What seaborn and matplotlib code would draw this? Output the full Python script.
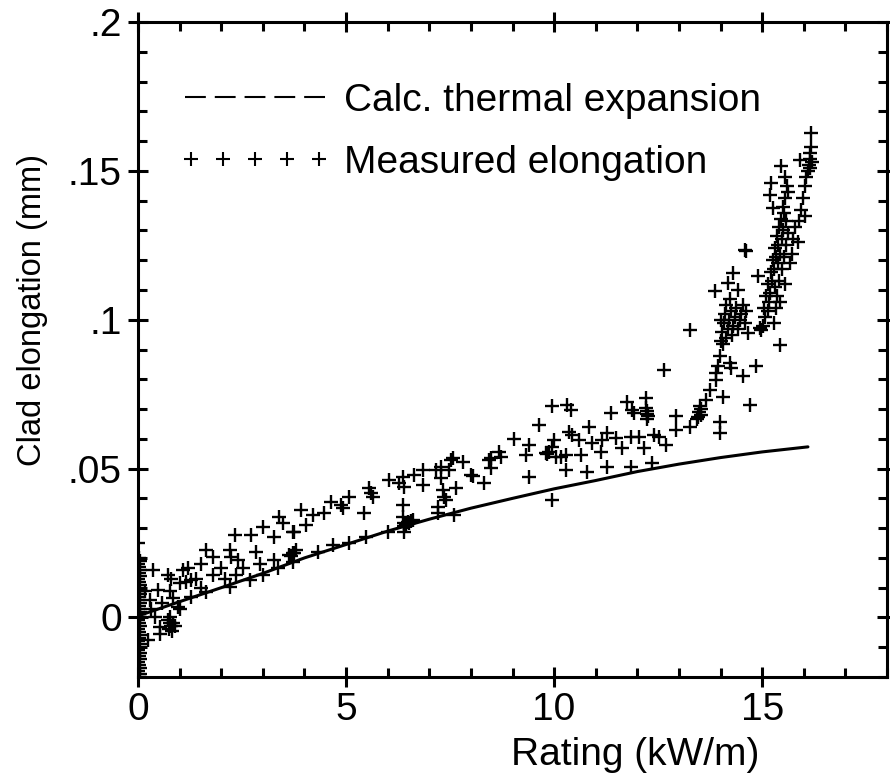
import matplotlib
matplotlib.use("Agg")
import matplotlib.pyplot as plt
import pandas as pd
import seaborn as sns
from matplotlib.lines import Line2D
from matplotlib.legend_handler import HandlerLine2D
from matplotlib.ticker import MultipleLocator, FixedLocator

sns.set_theme(style="ticks")
plt.rcParams['font.family'] = ['Liberation Sans', 'DejaVu Sans']
plt.rcParams['text.color'] = 'black'
plt.rcParams['axes.labelcolor'] = 'black'
plt.rcParams['xtick.color'] = 'black'
plt.rcParams['ytick.color'] = 'black'

# ---- data ----
calc_x = [0, 1, 2, 3, 4, 5, 6, 7, 8, 9, 10, 11, 12, 13, 14, 15, 16.1]
calc_y = [0.0005, 0.0053, 0.0100, 0.0148, 0.0200, 0.0245, 0.0290, 0.0330, 0.0367,
          0.0400, 0.0432, 0.0460, 0.0490, 0.0515, 0.0537, 0.0556, 0.0573]

zero_x = [0.02, 0.04, 0.00, 0.05, 0.03, 0.01, 0.04, 0.02, 0.05, 0.00, 0.03, 0.04, 0.01, 0.02,
          0.05, 0.03, 0.00, 0.04, 0.02, 0.01, 0.05, 0.03, 0.04, 0.00, 0.02, 0.05, 0.01, 0.03,
          0.04, 0.02, 0.00, 0.05, 0.03, 0.01, 0.04, 0.02, 0.05, 0.03, 0.00, 0.04, 0.02, 0.01]
zero_y = [-0.020, -0.019, -0.018, -0.017, -0.016, -0.015, -0.014, -0.013, -0.012, -0.011,
          -0.010, -0.009, -0.008, -0.007, -0.006, -0.005, -0.004, -0.003, -0.002, -0.001,
          0.000, 0.001, 0.002, 0.003, 0.004, 0.005, 0.006, 0.007, 0.008, 0.009, 0.010,
          0.011, 0.012, 0.013, 0.014, 0.015, 0.016, 0.017, 0.018, 0.019, 0.020, 0.025]

low_x = [0.16, 0.24, 0.28, 0.32, 0.37, 0.40, 0.48, 0.52, 0.52, 0.58, 0.72, 0.76, 0.80, 0.84,
         0.96, 1.00, 1.00, 1.08, 1.16, 1.20, 1.28, 1.28, 1.40, 1.52, 1.64, 1.80, 1.52, 1.64,
         1.80, 2.00, 2.08, 2.20, 2.24, 2.32, 2.40, 2.52, 2.36, 2.20, 2.68, 2.72, 2.84, 2.92,
         3.00, 3.00, 3.28, 3.28, 3.40, 3.48, 3.36, 3.64, 3.68, 3.72, 3.76, 3.80, 3.72, 3.76,
         3.72, 3.92, 4.04, 4.20, 4.32, 4.48, 4.64, 4.68, 4.88, 4.92, 5.08, 5.08, 5.44, 5.48,
         5.56, 5.60, 5.64, 6.00, 6.04, 6.28, 6.36, 6.40, 6.36, 6.36, 6.40, 6.44, 6.48, 6.52,
         6.40, 6.56, 6.40, 6.60, 6.64, 6.84, 6.84, 7.16, 7.20, 7.20, 7.28, 7.28, 7.32, 7.36,
         7.40, 7.48, 7.52, 7.56, 7.60, 7.64, 7.80, 8.00, 8.04, 8.32, 8.44, 8.48, 8.48, 8.68,
         8.72, 9.04, 9.32, 9.40, 9.40, 9.64, 9.80, 9.84, 9.88, 9.96, 10.00, 9.96, 10.04, 10.16,
         10.28, 10.28, 10.32, 10.40, 10.36, 10.44, 10.60, 10.64, 10.80, 10.84, 10.92, 11.12,
         11.16, 11.28, 11.28, 11.36, 11.48, 11.64, 11.76, 11.84, 11.84, 11.88, 11.92, 12.04,
         12.16, 12.20, 12.22, 12.24, 12.24, 12.26, 12.24, 12.36, 12.40, 12.52, 12.64, 12.68,
         9.96, 0.72, 0.76, 0.80, 0.78, 0.84, 0.74, 0.82, 0.90]
low_y = [0.0090, -0.0076, 0.0058, 0.0030, 0.0160, 0.0002, 0.0092, -0.0032, -0.0054, 0.0047,
         0.0142, 0.0090, 0.0130, 0.0065, 0.0036, 0.0115, 0.0030, 0.0160, 0.0120, 0.0165,
         0.0125, 0.0069, 0.0130, 0.0180, 0.0226, 0.0204, 0.0098, 0.0086, 0.0142, 0.0165,
         0.0130, 0.0226, 0.0204, 0.0277, 0.0193, 0.0165, 0.0142, 0.0103, 0.0125, 0.0277,
         0.0220, 0.0180, 0.0142, 0.0305, 0.0270, 0.0193, 0.0338, 0.0316, 0.0165, 0.0210,
         0.0205, 0.0215, 0.0218, 0.0226, 0.0288, 0.0288, 0.0187, 0.0361, 0.0310, 0.0344,
         0.0220, 0.0350, 0.0389, 0.0243, 0.0378, 0.0367, 0.0406, 0.0249, 0.0350, 0.0270,
         0.0434, 0.0417, 0.0406, 0.0288, 0.0461, 0.0450, 0.0473, 0.0439, 0.0378, 0.0338,
         0.0316, 0.0312, 0.0320, 0.0318, 0.0306, 0.0325, 0.0288, 0.0327, 0.0479, 0.0495,
         0.0445, 0.0495, 0.0372, 0.0350, 0.0507, 0.0468, 0.0428, 0.0406, 0.0395, 0.0495,
         0.0529, 0.0535, 0.0344, 0.0434, 0.0523, 0.0479, 0.0475, 0.0450, 0.0529, 0.0535,
         0.0501, 0.0557, 0.0540, 0.0599, 0.0546, 0.0580, 0.0473, 0.0647, 0.0552, 0.0548,
         0.0556, 0.0711, 0.0596, 0.0574, 0.0540, 0.0540, 0.0546, 0.0495, 0.0714, 0.0697,
         0.0624, 0.0613, 0.0596, 0.0546, 0.0490, 0.0641, 0.0585, 0.0557, 0.0596, 0.0619,
         0.0507, 0.0686, 0.0602, 0.0568, 0.0725, 0.0607, 0.0507, 0.0697, 0.0686, 0.0607,
         0.0568, 0.0737, 0.0705, 0.0695, 0.0685, 0.0675, 0.0665, 0.0518, 0.0613, 0.0607,
         0.0832, 0.0580, 0.0395, -0.0010, -0.0020, -0.0030, 0.0000, -0.0020, -0.0040,
         -0.0045, -0.0030]

high_x = [12.94, 12.94, 13.26, 13.26, 13.44, 13.48, 13.50, 13.52, 13.54, 13.46, 13.66, 13.74,
          13.90, 13.90, 13.94, 13.98, 14.22, 14.26, 14.06, 13.98, 13.98, 14.54, 14.70, 14.86,
          14.00, 14.04, 14.08, 14.10, 14.14, 14.18, 14.20, 14.24, 14.28, 14.30, 14.34, 14.38,
          14.42, 14.46, 14.50, 14.54, 14.58, 14.62, 14.66, 14.22, 14.12, 14.06, 14.02,
          14.18, 14.30, 13.86, 14.42, 14.62, 14.58, 14.94, 14.90, 14.98, 15.42,
          15.02, 15.05, 15.08, 15.10, 15.13, 15.15, 15.17, 15.20, 15.22, 15.23, 15.25, 15.28,
          15.30, 15.31, 15.33, 15.35, 15.37, 15.39, 15.41, 15.43, 15.45, 15.47, 15.49, 15.50,
          15.53, 15.55, 15.57, 15.59, 15.28, 15.33, 15.36, 15.40, 15.44, 15.47, 15.52, 15.55,
          15.58, 15.63, 15.66, 15.71, 15.75, 15.79, 15.85, 15.89, 15.94, 15.99, 16.02, 16.03,
          16.06,
          16.10, 16.12, 16.14, 16.16, 16.18, 16.14, 16.20, 16.18, 15.90, 15.46, 15.54, 15.22,
          15.18, 15.62, 15.26]
high_y = [0.0675, 0.0630, 0.0966, 0.0641, 0.0665, 0.0690, 0.0710, 0.0700, 0.0680, 0.0672,
          0.0731, 0.0765, 0.0798, 0.0820, 0.0843, 0.0877, 0.0854, 0.0838, 0.0742, 0.0658,
          0.0620, 0.0810, 0.0714, 0.0843,
          0.0930, 0.0960, 0.0990, 0.1020, 0.0940, 0.0970, 0.1000, 0.1030, 0.0950, 0.0980,
          0.1010, 0.1040, 0.0970, 0.1000, 0.1020, 0.1050, 0.0990, 0.1030, 0.0955, 0.1070,
          0.1050, 0.0920, 0.1000,
          0.1123, 0.1157, 0.1095, 0.1100, 0.1230, 0.1235, 0.0972, 0.1146, 0.0966, 0.0916,
          0.0980, 0.1040, 0.1010, 0.1080, 0.1030, 0.1120, 0.1060, 0.1090, 0.1160, 0.1130,
          0.1200, 0.1170, 0.1240, 0.1110, 0.1210, 0.1280, 0.1190, 0.1250, 0.1310, 0.1220,
          0.1340, 0.1270, 0.1380, 0.1300, 0.1360, 0.1410, 0.1330, 0.1450, 0.0990, 0.1040,
          0.1080, 0.1130, 0.1060, 0.1170, 0.1210, 0.1120, 0.1250, 0.1290, 0.1190, 0.1220,
          0.1270, 0.1310, 0.1260, 0.1330, 0.1370, 0.1410, 0.1350, 0.1450, 0.1480,
          0.1500, 0.1520, 0.1540, 0.1560, 0.1580, 0.1510, 0.1530, 0.1628, 0.1538, 0.1516,
          0.1480, 0.1460, 0.1420, 0.1430, 0.1376]

y_ticks = [0, 0.05, 0.1, 0.15, 0.2]
y_tick_labels = ['0', '.05', '.1', '.15', '.2']
x_ticks = [0, 5, 10, 15]
x_tick_labels = ['0', '5', '10', '15']

# ---- figure ----
fig = plt.figure(figsize=(8.9, 7.77), dpi=100)
ax = fig.add_axes([138 / 890, 1 - 677 / 777, 749 / 890, 655 / 777])
ax.set_facecolor('white')

meas = pd.DataFrame({'rating': zero_x + low_x + high_x,
                     'elong': zero_y + low_y + high_y})
calc = pd.DataFrame({'rating': calc_x, 'elong': calc_y})

sns.scatterplot(data=meas, x='rating', y='elong', marker='+', s=110, color='black',
                linewidth=1.7, ax=ax, legend=False, zorder=3)
sns.lineplot(data=calc, x='rating', y='elong', color='black', linewidth=2.2,
             sort=False, ax=ax, legend=False, zorder=4)

ax.set_xlim(0, 18)
ax.set_ylim(-0.02, 0.2)
ax.xaxis.set_major_locator(FixedLocator(x_ticks))
ax.xaxis.set_minor_locator(MultipleLocator(1))
ax.yaxis.set_major_locator(FixedLocator(y_ticks))
ax.yaxis.set_minor_locator(MultipleLocator(0.01))
ax.set_xticklabels(x_tick_labels)
ax.set_yticklabels(y_tick_labels)

for sp in ax.spines.values():
    sp.set_visible(True)
    sp.set_linewidth(2.2)
    sp.set_color('black')

ax.tick_params(which='major', direction='inout', length=14.4, width=2.2, top=True,
               right=True, labelsize=28, color='black', labelcolor='black')
ax.tick_params(axis='x', which='major', pad=3.5)
ax.tick_params(axis='y', which='major', pad=4.5)
ax.tick_params(which='minor', direction='in', length=6.5, width=2.2, top=True,
               right=True, color='black')

ax.set_xlabel('Rating (kW/m)', fontsize=28, color='black', va='center')
ax.set_ylabel('Clad elongation (mm)', fontsize=23.5, color='black', va='center')
ax.xaxis.set_label_coords(0.6636, -0.119)
ax.yaxis.set_label_coords(-0.1415, 0.56)

calc_handle = Line2D([], [], color='black', linewidth=1.5, linestyle=(0, (10, 4.3)))
meas_handle = Line2D([], [], color='black', linestyle='none', marker='+', markersize=10,
                     markeredgewidth=1.5)
leg = ax.legend([calc_handle, meas_handle], ['Calc. thermal expansion', 'Measured elongation'],
                handler_map={calc_handle: HandlerLine2D(marker_pad=0),
                             meas_handle: HandlerLine2D(marker_pad=0.15)},
                loc='upper left', bbox_to_anchor=(0.0628, 0.907), frameon=False,
                fontsize=28, handlelength=3.6, handletextpad=0.5, labelspacing=0.67,
                numpoints=5, borderpad=0, borderaxespad=0, labelcolor='black')

ax.grid(False)
fig.savefig('out.png', dpi=100, facecolor='white')
